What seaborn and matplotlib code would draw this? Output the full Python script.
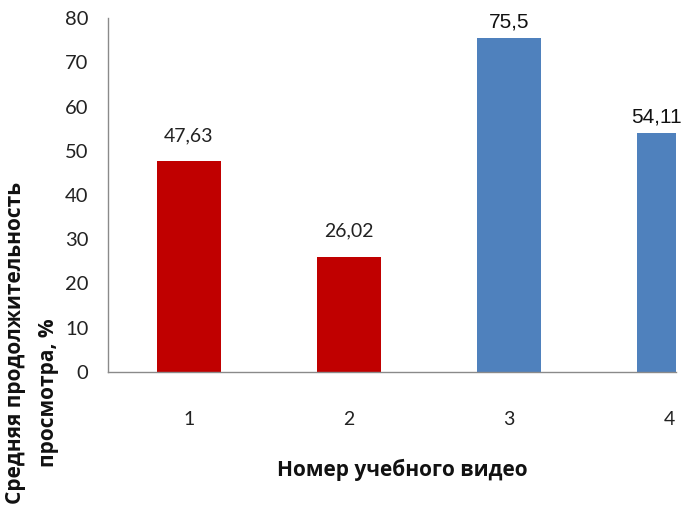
import matplotlib
matplotlib.use("Agg")
import matplotlib.pyplot as plt
import seaborn as sns
import pandas as pd

# Average viewing duration per tutorial video
videos = ["1", "2", "3", "4"]
durations = [47.63, 26.02, 75.5, 54.11]
bar_colors = ["#C00000", "#C00000", "#4F81BD", "#4F81BD"]
y_ticks = [0, 10, 20, 30, 40, 50, 60, 70, 80]

df = pd.DataFrame({"video": videos, "duration": durations})

sns.set_theme(style="white")
plt.rcParams["font.family"] = ["Lato", "Open Sans", "DejaVu Sans"]

fig = plt.figure(figsize=(6.83, 5.12), dpi=100)
ax = fig.add_axes([108 / 683, 140 / 512, (676 - 108) / 683, (372 - 18) / 512])

sns.barplot(data=df, x="video", y="duration", hue="video",
            palette=bar_colors, width=0.4, legend=False, ax=ax,
            saturation=1, edgecolor="none")

x_right = 3.044
ax.set_xlim(-0.506, x_right)
ax.set_ylim(0, 80)
ax.set_yticks(y_ticks)
ax.set_yticklabels([str(t) for t in y_ticks], fontsize=14.5, color="#222222",
                   family=["Lato", "Open Sans"])
ax.tick_params(axis="y", length=0, pad=14)
ax.tick_params(axis="x", length=0, pad=28, labelsize=14, labelcolor="#222222")
for lab in ax.get_xticklabels():
    lab.set_family(["Lato", "Open Sans"])

for side in ["top", "right"]:
    ax.spines[side].set_visible(False)
for side in ["left", "bottom"]:
    ax.spines[side].set_color("#8A8A8A")
    ax.spines[side].set_linewidth(1.0)

ax.set_xlabel("")
ax.set_ylabel("")

# Value labels above the bars (decimal comma)
for i, v in enumerate(durations):
    txt = f"{v:g}".replace(".", ",")
    if bar_colors[i] == "#C00000":
        ax.annotate(txt, (i, v), xytext=(0, 14.4), textcoords="offset points",
                    ha="center", va="baseline", fontsize=14, color="#222222",
                    family=["Lato", "Open Sans"])
    else:
        xc = i if i < 3 else (i - 0.2 + x_right) / 2
        ax.annotate(txt, (xc, v), xytext=(0, 7.5), textcoords="offset points",
                    ha="center", va="baseline", fontsize=15, color="#111111",
                    family=["Liberation Sans"])

# Axis titles
fig.text(402 / 683, 1 - 470 / 512, "Номер учебного видео", ha="center", va="center",
         fontsize=15, fontweight="bold", family=["Open Sans"], color="#111111")
fig.text(16 / 683, 1 - 343 / 512, "Средняя продолжительность", rotation=90,
         ha="center", va="center", fontsize=15, fontweight="bold",
         family=["Open Sans"], color="#111111")
fig.text(49 / 683, 1 - 393 / 512, "просмотра, %", rotation=90,
         ha="center", va="center", fontsize=15, fontweight="bold",
         family=["Open Sans"], color="#111111")

fig.savefig("out.png", dpi=100)
